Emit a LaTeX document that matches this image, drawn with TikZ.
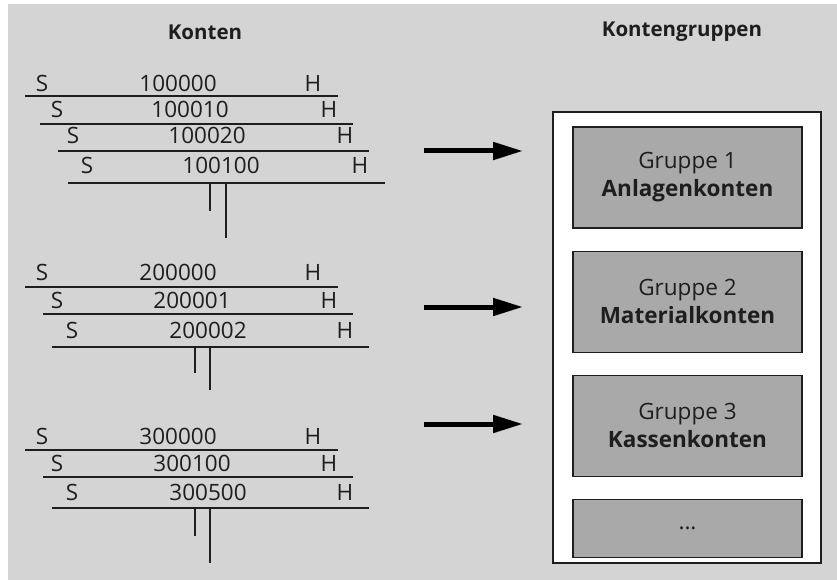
\documentclass[tikz,border=0pt]{standalone}
\usepackage{fontspec}
\setmainfont{Open Sans}
\usetikzlibrary{arrows.meta,positioning}
\definecolor{bggray}{HTML}{D4D4D4}
\definecolor{boxgray}{HTML}{A9A9A9}
\definecolor{ink}{HTML}{1E1E1E}

\begin{document}
\begin{tikzpicture}[x=1pt,y=-1pt,node distance=22pt,
 acct/.style={font=\fontsize{22.5}{26}\selectfont,inner sep=0pt,anchor=base,text=ink},
 tline/.style={draw=ink,line width=1.1pt},
 title/.style={font=\bfseries\fontsize{20.5}{24}\selectfont,text=ink},
 grpbox/.style={draw=ink,line width=1.2pt,fill=boxgray,align=center,text=ink,
 minimum width=229pt,minimum height=101pt,font=\fontsize{22.5}{28}\selectfont},
 outerbox/.style={draw=ink,line width=1.4pt,fill=white,minimum width=268pt,minimum height=451pt},
 bigarrow/.style={-{Triangle[length=30pt,width=17pt]},line width=5pt}]
\useasboundingbox (0,0) rectangle (837,580);
\fill[white] (0,0) rectangle (837,580);
\fill[bggray] (8,4) rectangle (837,580);
\node[title] (konten) at (205,32) {Konten};
\node[title] (kontengruppen) at (682,32) {Kontengruppen};
\foreach \id/\num/\sx/\nx/\hx/\base/\ly/\xl/\xr in {
 a1/100000/42/178/313/92/96/25/338, a2/100010/57/190/329/118/124/40/353,
 a3/100020/73/207/345/144/151/58/369, a4/100100/87/221/360/174/183/68/385,
 b1/200000/42/178/313/280/287/25/338, b2/200001/57/192/329/308/314/43/353,
 b3/200002/72/208/345/338/347/52/369,
 c1/300000/42/178/313/444/450/25/338, c2/300100/57/192/329/471/477/43/353,
 c3/300500/72/208/345/500/508/52/369}{
  \node[acct] (s\id) at (\sx,\base) {S};
  \node[acct] (n\id) at (\nx,\base) {\num};
  \node[acct] (h\id) at (\hx,\base) {H};
  \draw[tline] (\xl,\ly) -- (\xr,\ly);
}
\foreach \xa/\xb/\yt/\ya/\yb in {210/226/183/211/238,195/210/347/373/390,195/210/508/536/563}{
  \draw[tline] (\xa,\yt) -- (\xa,\ya);
  \draw[tline] (\xb,\yt) -- (\xb,\yb);
}
\node[outerbox] (gruppen) at (687,337.5) {};
\node[grpbox] (grp1) at (687.5,177.5) {Gruppe 1\\\textbf{Anlagenkonten}};
\node[grpbox,below=of grp1] (grp2) {Gruppe 2\\\textbf{Materialkonten}};
\node[grpbox,below=of grp2] (grp3) {Gruppe 3\\\textbf{Kassenkonten}};
\node[grpbox,below=of grp3,minimum height=58pt] (grpmore) {...};
\foreach \i/\y in {1/151,2/307,3/424}{
  \coordinate (tail\i) at (424,\y);
  \coordinate (tip\i) at (523,\y);
  \draw[bigarrow] (tail\i) -- (tip\i);
}
\end{tikzpicture}
\end{document}
